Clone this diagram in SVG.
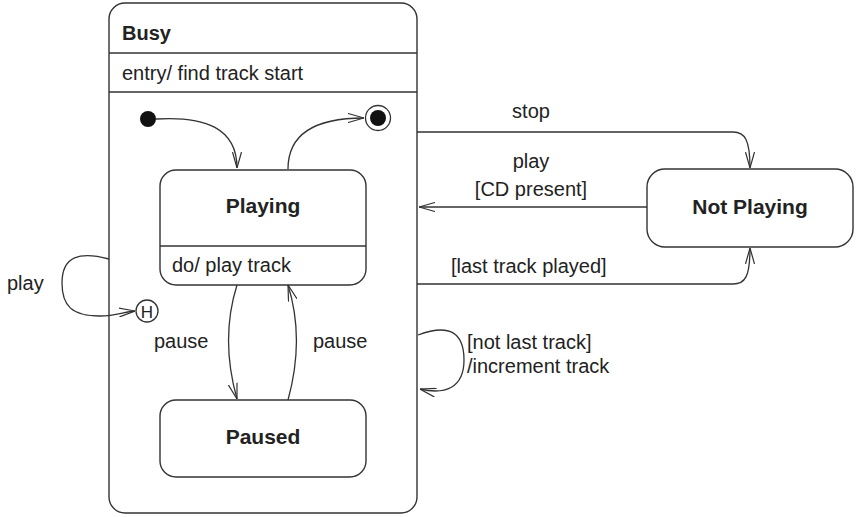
<svg xmlns="http://www.w3.org/2000/svg" width="856" height="517" viewBox="0 0 856 517">
<style>
.box{fill:#fff;stroke:#333;stroke-width:1.4}
.ln{fill:none;stroke:#333;stroke-width:1.4}
.t{font-family:"Liberation Sans",Arial,sans-serif;font-size:20px;fill:#222}
.b{font-family:"Liberation Sans",Arial,sans-serif;font-size:21px;font-weight:bold;fill:#222}
.c{fill:none;stroke:#333;stroke-width:1.3}
</style>
<defs>
<marker id="arr" viewBox="0 0 16 10" refX="16" refY="5" markerWidth="16" markerHeight="10" markerUnits="userSpaceOnUse" orient="auto">
<path d="M0,0.5 L16,5 L0,9.5" fill="none" stroke="#333" stroke-width="1.2"/>
</marker>
</defs>
<rect width="856" height="517" fill="#fff"/>
<g id="busy">
<rect class="box" x="109" y="3" width="308" height="510" rx="16"/>
<line class="ln" x1="109" y1="53" x2="417" y2="53"/>
<line class="ln" x1="109" y1="92" x2="417" y2="92"/>
<text class="b" x="122" y="40" style="font-size:20px">Busy</text>
<text class="t" x="122" y="80">entry/ find track start</text>
</g>
<g id="initial"><circle cx="148" cy="119" r="8" fill="#111"/></g>
<g id="final">
<circle cx="378" cy="118" r="12.5" fill="#fff" stroke="#333" stroke-width="1.3"/>
<circle cx="378" cy="118" r="8" fill="#111"/>
</g>
<g id="history">
<circle cx="147" cy="311" r="11" fill="#fff" stroke="#333" stroke-width="1.3"/>
<text class="t" x="147" y="317.5" text-anchor="middle" style="font-size:17px">H</text>
</g>
<g id="playing">
<rect class="box" x="160" y="170" width="206" height="115" rx="16"/>
<line class="ln" x1="160" y1="246" x2="366" y2="246"/>
<text class="b" x="263" y="213" text-anchor="middle">Playing</text>
<text class="t" x="172" y="272">do/ play track</text>
</g>
<g id="paused">
<rect class="box" x="160" y="400" width="206" height="77" rx="16"/>
<text class="b" x="263" y="444" text-anchor="middle">Paused</text>
</g>
<g id="notplaying">
<rect class="box" x="647" y="169" width="206" height="78" rx="18"/>
<text class="b" x="750" y="214" text-anchor="middle">Not Playing</text>
</g>
<g id="connectors">
<path class="c" marker-end="url(#arr)" d="M156,119 C205,116 237,128 237,168"/>
<path class="c" marker-end="url(#arr)" d="M288,169 C288,132 318,118 364,118"/>
<path class="c" marker-end="url(#arr)" d="M237,285 C226,320 226,360 237,399"/>
<path class="c" marker-end="url(#arr)" d="M288,400 C299,360 299,320 288,285"/>
<path class="c" marker-end="url(#arr)" d="M109,259 C80,251 62,256 62,283 C62,306 72,316 100,316 C115,316 124,312 135,311"/>
<path class="c" marker-end="url(#arr)" d="M417,132 L733,132 C745,132 750,140 750,168"/>
<path class="c" marker-end="url(#arr)" d="M647,207 L419,207"/>
<path class="c" marker-end="url(#arr)" d="M417,284 L733,284 C745,284 750,277 750,248"/>
<path class="c" marker-end="url(#arr)" d="M418,335 C450,323 464,333 464,360 C464,388 445,395 420,389"/>
<text class="t" x="531" y="118" text-anchor="middle">stop</text>
<text class="t" x="531" y="168" text-anchor="middle">play</text>
<text class="t" x="531" y="196" text-anchor="middle">[CD present]</text>
<text class="t" x="451" y="273">[last track played]</text>
<text class="t" x="467" y="349">[not last track]</text>
<text class="t" x="467" y="373">/increment track</text>
<text class="t" x="7" y="290">play</text>
<text class="t" x="154" y="348">pause</text>
<text class="t" x="313" y="348">pause</text>
</g>
</svg>
